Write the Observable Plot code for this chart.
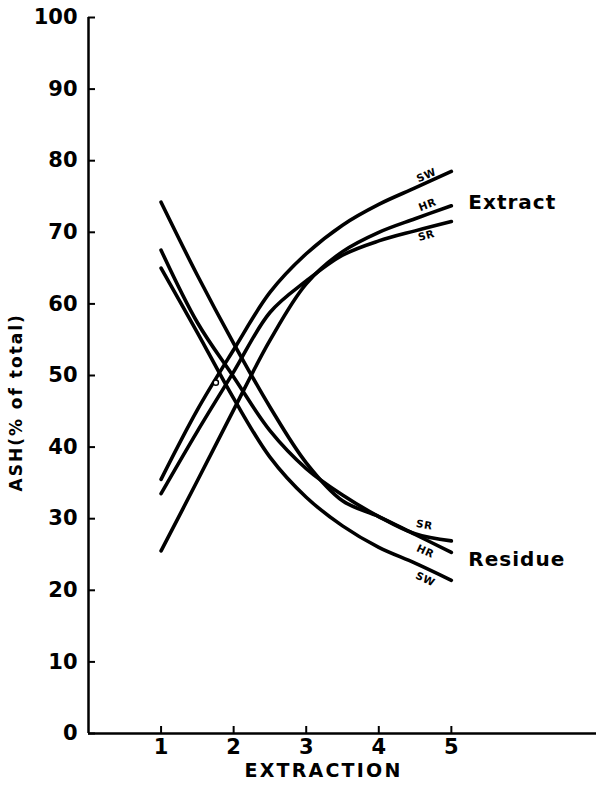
<!DOCTYPE html>
<html><head><meta charset="utf-8">
<script src="https://cdn.jsdelivr.net/npm/d3@7"></script>
<script src="https://cdn.jsdelivr.net/npm/@observablehq/plot@0.6"></script>
<style>body{margin:0;background:#fff;} svg{overflow:visible;}</style>
</head><body><div id="chart"></div>
<script>
// Data
const extraction = [1, 1.5, 2, 2.5, 3, 3.5, 4, 4.5, 5];
const extractSW = [35.5, 45.2, 53.6, 61.6, 67.0, 71.0, 73.9, 76.2, 78.5];
const extractHR = [25.5, 35.3, 45.2, 54.9, 62.8, 67.3, 70.0, 71.9, 73.7];
const extractSR = [33.5, 42.2, 50.5, 58.8, 63.2, 66.8, 68.8, 70.2, 71.5];
const residueSW = [65.0, 56.0, 46.8, 38.6, 33.0, 29.0, 26.0, 23.8, 21.4];
const residueHR = [74.2, 64.0, 54.5, 45.6, 37.8, 32.5, 30.3, 27.8, 25.3];
const residueSR = [67.5, 57.4, 49.8, 42.3, 37.0, 33.3, 30.3, 27.9, 26.9];
const marker = [{x: 1.755, y: 49}];
const xTicks = [1, 2, 3, 4, 5];
const yTicks = [0, 10, 20, 30, 40, 50, 60, 70, 80, 90, 100];
const xLabel = "EXTRACTION";
const yLabel = "ASH(% of total)";

const series = [
  {group: "Extract", name: "SW", values: extractSW},
  {group: "Extract", name: "HR", values: extractHR},
  {group: "Extract", name: "SR", values: extractSR},
  {group: "Residue", name: "SW", values: residueSW},
  {group: "Residue", name: "HR", values: residueHR},
  {group: "Residue", name: "SR", values: residueSR}
];
const rows = series.flatMap(s => extraction.map((x, i) => ({key: s.group + s.name, group: s.group, name: s.name, x, y: s.values[i]})));
const ends = series.map(s => ({key: s.group + s.name, group: s.group, name: s.name, x: extraction[extraction.length - 1], y: s.values[s.values.length - 1]}));

// label styling (offsets in pixels, rotation in degrees)
const labelStyle = {
  ExtractSW: {dx: -25, dy: 4, rotate: -24},
  ExtractHR: {dx: -24, dy: -1, rotate: -21},
  ExtractSR: {dx: -25, dy: 14, rotate: -16},
  ResidueSR: {dx: -27, dy: -16, rotate: 10},
  ResidueHR: {dx: -26, dy: -1, rotate: 25},
  ResidueSW: {dx: -26, dy: -1, rotate: 25}
};

const labelMarks = ends.map(e => Plot.text([e], {
  x: "x", y: "y", text: "name",
  dx: labelStyle[e.key].dx, dy: labelStyle[e.key].dy, rotate: labelStyle[e.key].rotate,
  fontSize: 10.5, fontWeight: "bold", fill: "black"
}));

const groupLabel = (g, dy) => Plot.text(ends.filter(e => e.group === g && e.name === "HR"), {
  x: "x", y: "y", text: "group", textAnchor: "start", dx: 17, dy,
  fontSize: 20, fontWeight: "bold", fill: "black"
});

const chart = Plot.plot({
  width: 596,
  height: 794,
  marginLeft: 88,
  marginRight: 0,
  marginTop: 17,
  marginBottom: 61,
  style: {fontFamily: "'DejaVu Sans', sans-serif", fontWeight: "bold", color: "black", background: "white"},
  x: {domain: [0, 7], axis: null},
  y: {domain: [0, 100], axis: null},
  marks: [
    Plot.ruleX([0], {stroke: "black", strokeWidth: 2.5}),
    Plot.ruleY([0], {stroke: "black", strokeWidth: 2.5}),
    Plot.tickY(yTicks, {y: d => d, insetRight: 501, stroke: "black", strokeWidth: 2}),
    Plot.tickX(xTicks, {x: d => d, insetTop: 709, stroke: "black", strokeWidth: 2}),
    Plot.axisY(yTicks, {tickSize: 0, tickPadding: 11, fontSize: 21, fontWeight: "bold", label: null}),
    Plot.axisX(xTicks, {tickSize: 0, tickPadding: 6, fontSize: 21, fontWeight: "bold", label: null}),
    Plot.line(rows, {x: "x", y: "y", z: "key", curve: "catmull-rom", stroke: "black", strokeWidth: 3.6}),
    Plot.dot(marker, {x: "x", y: "y", r: 2.6, fill: "white", stroke: "black", strokeWidth: 1.4}),
    ...labelMarks,
    groupLabel("Extract", -3),
    groupLabel("Residue", 7),
    Plot.text([yLabel], {frameAnchor: "left", rotate: -90, dx: -72, dy: 116, fontSize: 17, fontWeight: "bold", fill: "black"}),
    Plot.text([xLabel], {frameAnchor: "bottom", dx: -19, dy: 43, fontSize: 19, fontWeight: "bold", fill: "black"})
  ]
});
document.getElementById("chart").appendChild(chart);

// letter spacing for the lettered labels
const spacing = new Map([[xLabel, "2.2px"], [yLabel, "2px"], ["Extract", "1px"], ["Residue", "1px"], ["SW", "0.5px"], ["HR", "0.5px"], ["SR", "0.5px"]]);
d3.select(chart).selectAll("text").each(function() {
  const s = spacing.get(this.textContent);
  if (s) this.style.letterSpacing = s;
});
</script>
</body></html>
